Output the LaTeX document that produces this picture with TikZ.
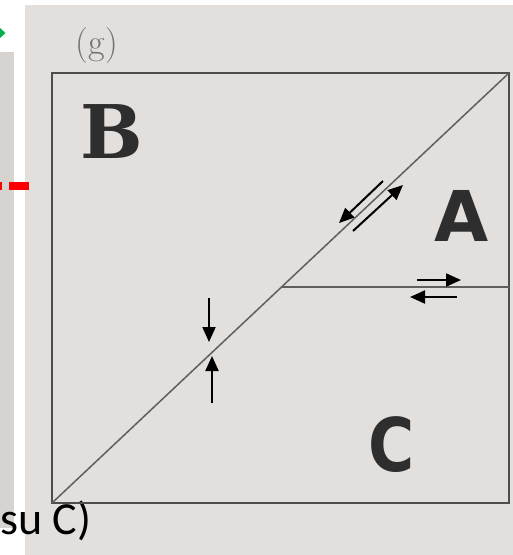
\documentclass[tikz,border=0pt]{standalone}
\usepackage{fontspec}
\usepackage{xcolor}
\usepackage{tikz}
\usetikzlibrary{arrows.meta,positioning,calc}
\newfontfamily\regionsans{DejaVu Sans}
\newfontfamily\regionserif{DejaVu Serif}
\newfontfamily\slidefont{Carlito}
\definecolor{paper}{HTML}{E2DFDD}
\definecolor{panel}{HTML}{D6D3D1}
\definecolor{pencil}{HTML}{4E4C4C}
\definecolor{slidegreen}{HTML}{00B050}

\begin{document}
\begin{tikzpicture}[x=1pt, y=-1pt,
  frame/.style={draw=pencil, line width=1.8pt},
  cut/.style={draw=pencil!90, line width=1.5pt},
  region/.style={inner sep=0pt, text=black!82},
  flow/.style={-{Triangle[length=15pt,width=13pt]}, line width=2pt}
]
  \useasboundingbox (0,0) rectangle (513,555);
  \clip (0,0) rectangle (513,555);
  % slide behind the photo
  \fill[white] (0,0) rectangle (513,555);
  \fill[panel] (0,52) rectangle (14,528);
  \fill[slidegreen] (0,28) -- (5.5,33) -- (0,38) -- cycle;
  \fill[paper] (25,5) rectangle (513,555);
  \fill[red] (0,182) rectangle (2,190);
  \fill[red] (9,182) rectangle (29,190);
  \node[anchor=base west, inner sep=0pt, font=\slidefont\fontsize{46}{46}\selectfont] (caption) at (0,534) {su C)};

  % the square and its cuts
  \coordinate (tl) at (52,73);
  \coordinate (tr) at (509,73);
  \coordinate (bl) at (52,503);
  \coordinate (br) at (509,503);
  \coordinate (knee) at (282,287);
  \coordinate (kneer) at (509,287);
  \draw[frame] (tl) -- (tr) -- (br) -- (bl) -- cycle;
  \draw[cut] (bl) -- (tr);
  \draw[cut] (knee) -- (kneer);

  \node[inner sep=0pt, text=black!55, font=\fontsize{36}{36}\selectfont] (tag) at (97,46) {(g)};
  \node[region, font=\regionserif\bfseries\fontsize{74}{74}\selectfont] (B) at (112,132) {B};
  \node[region, font=\regionsans\bfseries\fontsize{70}{70}\selectfont] (A) at (462,216) {A};
  \node[region, xscale=0.85, font=\regionsans\bfseries\fontsize{74}{74}\selectfont] (C) at (392,445) {C};

  % forces on the cuts
  \coordinate (d1s) at (383,181); \coordinate (d1e) at (339,223);
  \coordinate (d2s) at (353,231); \coordinate (d2e) at (403,185);
  \coordinate (h1s) at (417,280); \coordinate (h1e) at (461,280);
  \coordinate (h2s) at (457,297); \coordinate (h2e) at (410,297);
  \coordinate (v1s) at (209,298); \coordinate (v1e) at (209,342);
  \coordinate (v2s) at (212,403); \coordinate (v2e) at (212,356);
  \draw[flow] (d1s) -- (d1e);
  \draw[flow] (d2s) -- (d2e);
  \draw[flow] (h1s) -- (h1e);
  \draw[flow] (h2s) -- (h2e);
  \draw[flow] (v1s) -- (v1e);
  \draw[flow] (v2s) -- (v2e);
\end{tikzpicture}
\end{document}
